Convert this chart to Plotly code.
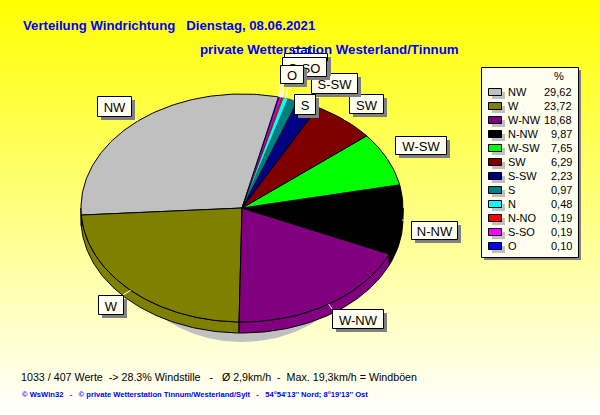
import math
import plotly.graph_objects as go

names = ["NW", "W", "W-NW", "N-NW", "W-SW", "SW", "S-SW", "S", "N", "N-NO", "S-SO", "O"]
values = [29.62, 23.72, 18.68, 9.87, 7.65, 6.29, 2.23, 0.97, 0.48, 0.19, 0.19, 0.10]
colors = ["#c0c0c0", "#808000", "#800080", "#000000", "#00ff00", "#800000",
          "#000080", "#008080", "#00ffff", "#ff0000", "#ff00ff", "#0000ff"]

title_1 = "Verteilung Windrichtung\u00a0\u00a0\u00a0Dienstag, 08.06.2021"
title_2 = "private Wetterstation Westerland/Tinnum"
footer_1 = ("1033 / 407 Werte\u00a0\u00a0-> 28.3% Windstille\u00a0\u00a0\u00a0-\u00a0\u00a0\u00a0"
            "\u00d8 2,9km/h\u00a0\u00a0-\u00a0\u00a0Max. 19,3km/h = Windb\u00f6en")
footer_2 = ("\u00a9 WsWin32\u00a0\u00a0\u00a0-\u00a0\u00a0\u00a0\u00a9 private Wetterstation "
            "Tinnum/Westerland/Sylt\u00a0\u00a0\u00a0-\u00a0\u00a0\u00a054\u00b054'13'' Nord; "
            "8\u00b019'13'' Ost")

# Geometry (pixels; the axes are mapped 1:1 to the page)
W, H = 600, 415
CX, CY, RX, RY, DEPTH = 242, 208, 161, 114, 11
START_DEG = 76.9            # NW starts here, angles run counter-clockwise
FONT = "Liberation Sans"
BOXES = {  # x0, y0, x1, y1 of the callout boxes
    "NW": (97, 96, 131, 116), "W": (98, 295, 123, 314), "W-NW": (332, 309, 383, 328),
    "N-NW": (411, 221, 457, 239), "W-SW": (395, 136, 446, 154), "SW": (349, 94, 383, 113),
    "S-SW": (311, 73, 357, 93), "S": (294, 94, 315, 114), "N": (293, 48, 308, 67),
    "N-NO": (284, 53, 327, 72), "S-SO": (282, 57, 326, 76), "O": (280, 65, 303, 83),
}


def pt(deg, dy=0):
    a = math.radians(deg)
    return CX + RX * math.cos(a), CY - RY * math.sin(a) + dy


def arc(a0, a1, dy=0):
    n = max(2, int(abs(a1 - a0)) + 2)
    return [pt(a0 + (a1 - a0) * i / (n - 1), dy) for i in range(n)]


def poly(points, color, line="#000000", width=1):
    xs, ys = zip(*points)
    return go.Scatter(x=list(xs) + [xs[0]], y=list(ys) + [ys[0]], mode="lines", fill="toself",
                      fillcolor=color, line=dict(color=line, width=width),
                      hoverinfo="skip", showlegend=False)


fig = go.Figure()
# page background gradient
fig.add_trace(go.Scatter(x=[0, W, W, 0, 0], y=[0, 0, H, H, 0], mode="lines", fill="toself",
                         line=dict(width=0), hoverinfo="skip", showlegend=False,
                         fillgradient=dict(type="vertical", start=0, stop=H,
                                           colorscale=[[0, "#ffff00"], [1, "#ffffff"]])))
# drop shadow
fig.add_trace(poly(arc(0, 360, 0), "#c0c0c0", "#c0c0c0", 0))
fig.data[-1].x = [CX + (x - CX) * 0.8 for x in fig.data[-1].x]
fig.data[-1].y = [y + 20 for y in fig.data[-1].y]

# wedge angles
total = sum(values)
spans = []
ang = START_DEG
for v in values:
    spans.append((ang, ang + v / total * 360))
    ang += v / total * 360

# side wall (only the front half is visible)
for (a0, a1), c in zip(spans, colors):
    for k in (-1, 0, 1):
        lo, hi = max(a0 + 360 * k, 180), min(a1 + 360 * k, 360)
        if lo < hi:
            fig.add_trace(poly(arc(lo, hi) + arc(hi, lo, DEPTH), c))
# top surface; very thin wedges get a hairline so their colour stays visible
for (a0, a1), c, v in zip(spans, colors, values):
    fig.add_trace(poly([(CX, CY)] + arc(a0, a1), c, width=1 if v >= 1 else 0.3))

shapes = []
# leader lines from each wedge rim to its box
lx, ly = [], []
for name, (a0, a1) in zip(names, spans):
    px, py = pt((a0 + a1) / 2)
    b = BOXES[name]
    qx, qy = min(max(px, b[0]), b[2]), min(max(py, b[1]), b[3])
    lx += [px, qx, None]
    ly += [py, qy, None]
fig.add_trace(go.Scatter(x=lx, y=ly, mode="lines", line=dict(color="#ffffff", width=1),
                         hoverinfo="skip", showlegend=False))

# callout boxes in data order, so later ones cover earlier ones
for name in names:
    x0, y0, x1, y1 = BOXES[name]
    shapes.append(dict(type="rect", x0=x0 + 4, y0=y0 + 4, x1=x1 + 4, y1=y1 + 4,
                       fillcolor="#808080", line=dict(width=0)))
    shapes.append(dict(type="rect", x0=x0 + .5, y0=y0 + .5, x1=x1 + .5, y1=y1 + .5, fillcolor="#fffff0",
                       line=dict(color="#000000", width=1),
                       label=dict(text=name, font=dict(family=FONT, size=13, color="#000000"),
                                  textposition="middle center")))

# legend box
shapes.append(dict(type="rect", x0=484, y0=70, x1=581, y1=260, fillcolor="#808080", line=dict(width=0)))
shapes.append(dict(type="rect", x0=481.5, y0=67.5, x1=578.5, y1=257.5, fillcolor="#fffff0",
                   line=dict(color="#000000", width=1)))

ann = []


def text(x, y, s, size=11, color="#000000", bold=False, anchor="left", family=FONT):
    ann.append(dict(x=x, y=y, xref="x", yref="y", text=f"<b>{s}</b>" if bold else s, showarrow=False,
                    xanchor=anchor, yanchor="middle", align=anchor,
                    font=dict(family=family, size=size, color=color)))


text(552, 76, "%", 11)
for i, (name, v, c) in enumerate(zip(names, values, colors)):
    y = 92 + i * 14
    shapes.append(dict(type="rect", x0=492, y0=y, x1=505, y1=y + 7, fillcolor="#c0c0c0", line=dict(width=0)))
    shapes.append(dict(type="rect", x0=488.5, y0=y - 3.5, x1=501.5, y1=y + 3.5, fillcolor=c,
                       line=dict(color="#000000", width=1)))
    text(506, y, name, 11)
    text(574, y, f"{v:.2f}".replace(".", ","), 11, anchor="right")

text(21, 25, title_1, 13.2, "#0000ff", True)
text(198, 49, title_2, 13.3, "#0000ff", True)
text(19, 377, footer_1, 10.7)
text(20, 394, footer_2, 7.6, "#0000ff", True)

fig.update_layout(
    width=W, height=H, margin=dict(l=0, r=0, t=0, b=0), showlegend=False,
    paper_bgcolor="#ffffff", plot_bgcolor="#ffffff", shapes=shapes, annotations=ann,
    xaxis=dict(range=[0, W], visible=False, fixedrange=True),
    yaxis=dict(range=[H, 0], visible=False, fixedrange=True),
)
fig.write_html("out.html", config=dict(displayModeBar=False),
               post_script="document.body.style.margin='0';document.documentElement.style.overflow='hidden';")
